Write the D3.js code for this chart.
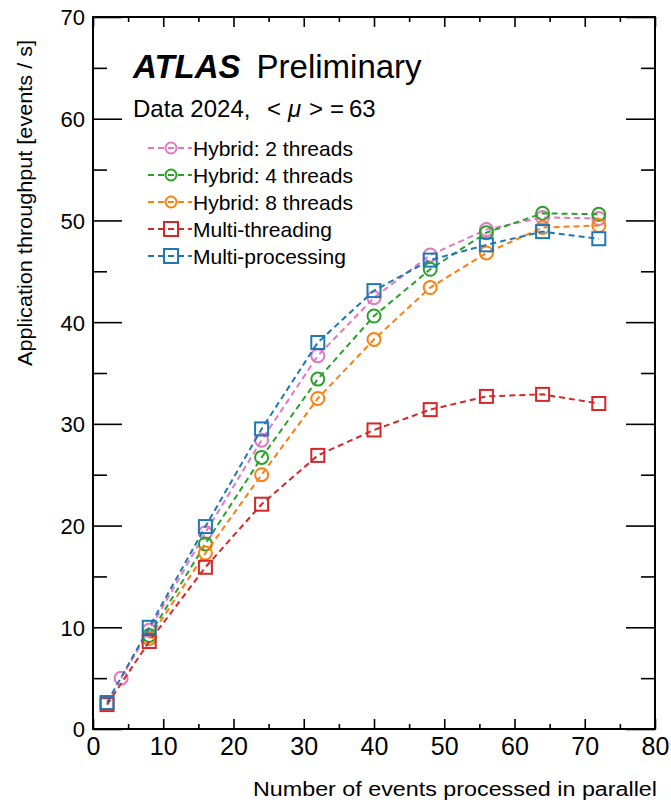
<!DOCTYPE html>
<html>
<head>
<meta charset="utf-8">
<script src="https://cdn.jsdelivr.net/npm/d3@7"></script>
<style>
  html, body { margin: 0; padding: 0; background: #fff; }
  svg { display: block; }
  text { font-family: "Liberation Sans", Arial, Helvetica, sans-serif; fill: #000; }
</style>
</head>
<body>
<svg id="chart" width="671" height="802"></svg>
<script>
// ---- data ----
const xHybrid2 = [4, 8, 16, 24, 32, 40, 48, 56, 64, 72];
const yHybrid2 = [5.0, 9.7, 19.3, 28.4, 36.7, 42.4, 46.6, 49.1, 50.3, 50.2];
const xHybrid4 = [8, 16, 24, 32, 40, 48, 56, 64, 72];
const yHybrid4 = [9.2, 18.2, 26.7, 34.4, 40.6, 45.2, 48.8, 50.7, 50.6];
const xHybrid8 = [8, 16, 24, 32, 40, 48, 56, 64, 72];
const yHybrid8 = [8.9, 17.3, 25.0, 32.5, 38.3, 43.4, 46.8, 49.3, 49.5];
const xMT = [2, 8, 16, 24, 32, 40, 48, 56, 64, 72];
const yMT = [2.4, 8.6, 15.9, 22.1, 26.9, 29.4, 31.4, 32.7, 32.9, 32.0];
const xMP = [2, 8, 16, 24, 32, 40, 48, 56, 64, 72];
const yMP = [2.6, 10.0, 19.9, 29.5, 38.0, 43.1, 46.1, 47.6, 48.9, 48.2];

const seriesNames = ["Hybrid: 2 threads", "Hybrid: 4 threads", "Hybrid: 8 threads", "Multi-threading", "Multi-processing"];
const seriesColors = ["#e377c2", "#2ca02c", "#ff7f0e", "#d62728", "#1f77b4"];
const seriesMarkers = ["circle", "circle", "circle", "square", "square"];
const xTickValues = [0, 10, 20, 30, 40, 50, 60, 70, 80];
const yTickValues = [0, 10, 20, 30, 40, 50, 60, 70];
const xTitle = "Number of events processed in parallel";
const yTitle = "Application throughput [events / s]";

const series = [
  {x: xHybrid2, y: yHybrid2},
  {x: xHybrid4, y: yHybrid4},
  {x: xHybrid8, y: yHybrid8},
  {x: xMT, y: yMT},
  {x: xMP, y: yMP}
].map((s, i) => ({
  name: seriesNames[i], color: seriesColors[i], marker: seriesMarkers[i],
  pts: s.x.map((xv, j) => ({x: xv, y: s.y[j]}))
}));

// ---- layout ----
const L = 93, R = 655, T = 17, B = 729;
const svg = d3.select("#chart");
const x = d3.scaleLinear().domain([0, 80]).range([L, R]);
const y = d3.scaleLinear().domain([0, 70]).range([B, T]);

// ticks (ROOT-style, inward, on all four sides)
const xMinor = d3.range(5, 80, 10);
const yMinor = d3.range(5, 70, 10);

function tickAxis(axisGen, transform, major, minor, majLen, minLen) {
  [[major, majLen], [minor, minLen]].forEach(([vals, len]) => {
    const g = svg.append("g").attr("transform", transform)
      .call(axisGen.tickValues(vals).tickSize(len).tickFormat(""));
    g.select(".domain").remove();
    g.selectAll("line").attr("stroke", "#000").attr("stroke-width", 1.6);
  });
}
tickAxis(d3.axisTop(x), `translate(0,${B})`, xTickValues, xMinor, 10, 5);
tickAxis(d3.axisBottom(x), `translate(0,${T})`, xTickValues, xMinor, 10, 5);
tickAxis(d3.axisRight(y), `translate(${L},0)`, yTickValues, yMinor, 29, 14);
tickAxis(d3.axisLeft(y), `translate(${R},0)`, yTickValues, yMinor, 29, 14);

// frame
svg.append("rect").attr("x", L).attr("y", T).attr("width", R - L).attr("height", B - T)
  .attr("fill", "none").attr("stroke", "#000").attr("stroke-width", 2);

// tick labels
const xl = svg.append("g").attr("transform", `translate(0,${B})`)
  .call(d3.axisBottom(x).tickValues(xTickValues).tickSize(0).tickPadding(0).tickFormat(d3.format("d")));
xl.select(".domain").remove();
xl.selectAll("text").attr("y", 26).attr("dy", 0).attr("font-size", 25)
  .style("font-family", "Liberation Sans, Arial, sans-serif");

const yl = svg.append("g").attr("transform", `translate(${L},0)`)
  .call(d3.axisLeft(y).tickValues(yTickValues).tickSize(0).tickPadding(0).tickFormat(d3.format("d")));
yl.select(".domain").remove();
yl.selectAll("text").attr("x", -8).attr("dy", "0.36em").attr("font-size", 22)
  .style("font-family", "Liberation Sans, Arial, sans-serif");

// axis titles
svg.append("text").attr("x", 657).attr("y", 796).attr("text-anchor", "end")
  .attr("font-size", 20).attr("textLength", 404).attr("lengthAdjust", "spacingAndGlyphs")
  .text(xTitle);
svg.append("text").attr("transform", "translate(32,40) rotate(-90)").attr("text-anchor", "end")
  .attr("font-size", 20).attr("textLength", 326).attr("lengthAdjust", "spacingAndGlyphs")
  .text(yTitle);

// series
const line = d3.line().x(d => x(d.x)).y(d => y(d.y));
const plot = svg.append("g");
function drawMarker(g, m, cx, cy, color, rc, hs) {
  if (m === "circle") {
    g.append("circle").attr("cx", cx).attr("cy", cy).attr("r", rc)
      .attr("fill", "none").attr("stroke", color).attr("stroke-width", 2);
  } else {
    g.append("rect").attr("x", cx - hs).attr("y", cy - hs).attr("width", 2 * hs).attr("height", 2 * hs)
      .attr("fill", "none").attr("stroke", color).attr("stroke-width", 2);
  }
}
series.forEach(s => {
  const g = plot.append("g");
  g.append("path").datum(s.pts).attr("d", line).attr("fill", "none")
    .attr("stroke", s.color).attr("stroke-width", 2).attr("stroke-dasharray", "6,4");
  s.pts.forEach(p => drawMarker(g, s.marker, x(p.x), y(p.y), s.color, 6.5, 6.5));
});

// ATLAS label
const lab = svg.append("text").attr("x", 133).attr("y", 78).attr("font-size", 33);
lab.append("tspan").attr("font-weight", "bold").attr("font-style", "italic").text("ATLAS");
lab.append("tspan").attr("dx", 16).text("Preliminary");

const dat = svg.append("g").attr("font-size", 24);
const dataY = 117;
dat.append("text").attr("x", 133).attr("y", dataY).text("Data 2024,");
dat.append("text").attr("x", 267).attr("y", dataY).text("<");
dat.append("text").attr("x", 288).attr("y", dataY).attr("font-style", "italic").text("μ");
dat.append("text").attr("x", 309).attr("y", dataY).text(">");
dat.append("text").attr("x", 330).attr("y", dataY).text("=");
dat.append("text").attr("x", 349).attr("y", dataY).text("63");

// legend
const legY0 = 148, legDY = 27;
series.forEach((s, i) => {
  const cy = legY0 + i * legDY;
  const g = svg.append("g");
  g.append("line").attr("x1", 148).attr("x2", 192).attr("y1", cy).attr("y2", cy)
    .attr("stroke", s.color).attr("stroke-width", 2).attr("stroke-dasharray", "6,4");
  drawMarker(g, s.marker, 171, cy, s.color, 5.5, 7);
  g.append("text").attr("x", 193).attr("y", cy).attr("dy", "0.36em").attr("font-size", 21).text(s.name);
});
</script>
</body>
</html>
